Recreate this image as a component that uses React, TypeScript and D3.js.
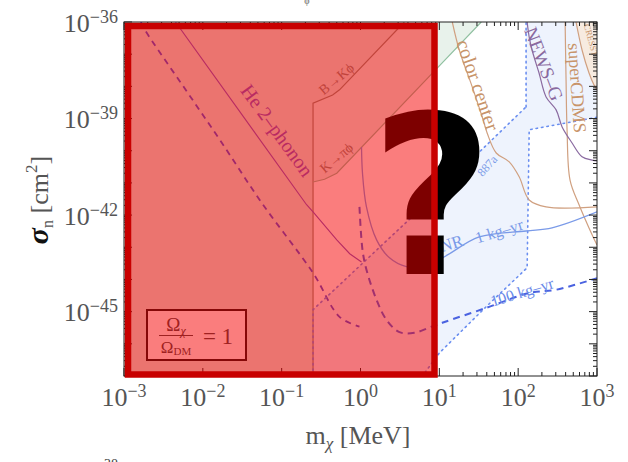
import React from 'react';
import * as d3 from 'd3';

type P = [number, number]; // [m_chi in MeV, sigma_n in cm^2]

const W = 628;
const H = 462;
const plot = { left: 124, right: 597, top: 22, bottom: 376 };

const xTickValues = [1e-3, 1e-2, 1e-1, 1, 10, 100, 1000];
const yTickValues = [1e-36, 1e-39, 1e-42, 1e-45];

// excluded region boundary from B -> K phi (plus low-mass bound)
const bKphi: P[] = [[0.25, 1e-47], [0.25, 3.0e-39], [0.443, 5.4e-39], [0.542, 7.8e-39], [3.6, 1e-36]];
// K -> pi phi
const kPiPhi: P[] = [[0.25, 1.07e-41], [0.35, 1.3e-41], [0.5, 2.0e-41], [9.2, 3.5e-38], [34, 1e-36]];
// He 2-phonon
const he2phonon: P[] = [[4.5e-3, 1e-36], [0.207, 2.1e-42], [0.25, 1.26e-42], [0.5, 1.7e-43], [0.73, 6.3e-44], [1.03, 3.5e-44]];
// long dashed projection
const heDashed: P[] = [[1.64e-3, 1e-36], [1.85e-3, 5.6e-37], [6.3e-3, 6.8e-39], [0.0164, 2.2e-40], [0.0558, 2.4e-42], [0.25, 1.6e-44], [0.542, 6.9e-46], [0.97, 3.4e-46]];
// NR 1 kg-yr
const nr1: P[] = [[1.03, 1.3e-40], [1.06, 2.0e-41], [1.19, 1.8e-42], [1.6, 1.7e-43], [2.33, 4.7e-44], [3.82, 2.5e-44], [5.58, 2.5e-44], [10.9, 4.7e-44], [32, 2.1e-43], [126, 3.2e-43], [269, 4.0e-43], [1000, 1.26e-42]];
// NR 100 kg-yr
const nr100: P[] = [[0.97, 1.8e-42], [1.06, 8.3e-44], [1.19, 2.0e-44], [1.6, 2.3e-45], [2.13, 5.6e-46], [3.12, 2.3e-46], [4.83, 2.2e-46], [7.47, 3.2e-46], [10.9, 4.5e-46], [39, 1.3e-45], [138, 3.8e-45], [303, 4.8e-45], [1000, 1.1e-44]];
// dotted boundaries of the light blue band
const bandOuter: P[] = [[0.25, 1e-47], [0.25, 1.15e-45], [5.1, 1.17e-42], [126, 2.3e-39], [126, 1e-36]];
const bandInner: P[] = [[1000, 1.1e-39], [138, 4.5e-40], [130, 2.3e-44], [39, 1.4e-45], [10, 5.2e-47], [6.1, 1e-47]];
// other experiments
const colorCenter: P[] = [[14.6, 1e-36], [17.9, 1.35e-37], [26.2, 9.5e-39], [35, 1.12e-39], [40.5, 3.5e-40], [52.7, 8.5e-41], [77, 4.5e-41], [103, 1.55e-41], [138, 2.95e-42], [226, 1.8e-42], [1000, 1.8e-42]];
const superCDMS: P[] = [[394, 1e-36], [405, 1.6e-38], [417, 4.5e-40], [455, 1.23e-41], [592, 2.1e-42], [792, 4.0e-43], [1000, 1.17e-43]];
const cresst: P[] = [[542, 1e-36], [646, 1.35e-37], [792, 2.6e-38], [917, 1.1e-38], [1000, 7.8e-39]];
const newsG: P[] = [[130, 1e-36], [138, 3.4e-37], [150, 1.35e-37], [184, 2.6e-38], [226, 4.7e-39], [303, 1.86e-39], [361, 5.5e-40], [483, 1.74e-40], [646, 6.5e-41], [865, 5.1e-41], [1000, 4.8e-41]];

const labelTexts = ['He 2\u2013phonon', 'B\u2192K\u03d5', 'K\u2192\u03c0\u03d5', 'color center', 'NEWS\u2013G', 'superCDMS', 'CRESST', '887a', 'NR', '1 kg\u2013yr', '100 kg\u2013yr'];
const labelPos: P[] = [[0.088, 4.3e-40], [0.497, 1.7e-38], [0.497, 6.0e-41], [31, 1.1e-38], [212, 5.0e-38], [558, 8.9e-39], [840, 2.75e-37], [40.5, 3.4e-41], [14.2, 1.3e-43], [57.4, 3.2e-43], [112, 4.1e-45]];
const labelAngle = [54, -40, -40, 71, 69, 86, 75, -48, -17, -17, -17];
const labelColor = ['#7a58c8', '#8a8a7a', '#8a8a7a', '#c8946a', '#8a6aa0', '#c8946a', '#c8946a', '#7a9ae8', '#7a9ae8', '#7a9ae8', '#6a8ae8'];
const labelSize = [20, 14, 14, 20, 19, 18, 9, 12, 17, 16, 16];

const supMinus = (v: number) => {
  const e = Math.round(Math.log10(v));
  return e < 0 ? '\u2212' + Math.abs(e) : String(e);
};

export default function App() {
  const x = d3.scaleLog().domain([1e-3, 1e3]).range([plot.left, plot.right]);
  const y = d3.scaleLog().domain([1e-47, 1e-36]).range([plot.bottom, plot.top]);
  const lin = d3.line<P>().x(d => x(d[0])).y(d => y(d[1]));
  const smooth = d3.line<P>().x(d => x(d[0])).y(d => y(d[1])).curve(d3.curveCatmullRom.alpha(0.5));
  const poly = (pts: P[]) => (lin(pts) || '') + 'Z';

  const xMinor: number[] = [];
  for (let k = -3; k < 3; k++) for (let m = 1; m < 10; m++) xMinor.push(m * Math.pow(10, k));
  xMinor.push(1000);
  const yMinor: number[] = [];
  for (let k = -47; k < -36; k++) for (let m = 1; m < 10; m++) yMinor.push(m * Math.pow(10, k));
  yMinor.push(1e-36);
  const isMajor = (v: number) => Math.abs(Math.log10(v) - Math.round(Math.log10(v))) < 1e-6;

  const serif = "'Liberation Serif', 'DejaVu Serif', serif";
  const tickCol = '#555';

  const bandPoly: P[] = [...bandOuter, [1000, 1e-36], ...bandInner];
  const greenPoly: P[] = [...kPiPhi, [0.25, 1e-36]];
  const grayPoly: P[] = [[1e-3, 1e-47], ...bKphi, [1e-3, 1e-36]];
  const cresstPoly: P[] = [...cresst, [1000, 1e-36]];

  return (
    <svg width={W} height={H} style={{ position: 'absolute', left: 0, top: 0, background: '#fff' }} fontFamily={serif}>
      <defs>
        <clipPath id="plotClip">
          <rect x={plot.left} y={plot.top} width={plot.right - plot.left} height={plot.bottom - plot.top} />
        </clipPath>
      </defs>
      <rect x={0} y={0} width={W} height={H} fill="#fff" />
      <text x={307} y={4} fontSize={10} fill="#666" textAnchor="middle">{'\u03d5'}</text>

      <g clipPath="url(#plotClip)">
        <path d={poly(bandPoly)} fill="#eef3fd" />
        <path d={poly(greenPoly)} fill="#e8f2eb" />
        <path d={poly(grayPoly)} fill="#e0ece2" />
        <path d={poly(cresstPoly)} fill="#f7ebe0" />

        <path d={lin(bKphi) || ''} fill="none" stroke="#8c8c78" strokeWidth={1.2} />
        <path d={lin(kPiPhi) || ''} fill="none" stroke="#8fc0a0" strokeWidth={1.2} />
        <path d={lin(he2phonon) || ''} fill="none" stroke="#7a58c8" strokeWidth={1.1} />
        <path d={smooth(heDashed) || ''} fill="none" stroke="#4a50d8" strokeWidth={1.8} strokeDasharray="6 5" />
        <path d={lin(bandOuter.slice(0, 4)) || ''} fill="none" stroke="#6a8ef0" strokeWidth={1.6} strokeDasharray="1.5 4" strokeLinecap="round" />
        <path d={lin(bandOuter.slice(3)) || ''} fill="none" stroke="#6a8ef0" strokeWidth={1.6} strokeDasharray="1.5 4" strokeLinecap="round" />
        <path d={lin(bandInner) || ''} fill="none" stroke="#6a8ef0" strokeWidth={1.6} strokeDasharray="1.5 4" strokeLinecap="round" />
        <path d={smooth(colorCenter) || ''} fill="none" stroke="#d0a080" strokeWidth={1.2} />
        <path d={smooth(superCDMS) || ''} fill="none" stroke="#d0a080" strokeWidth={1.2} />
        <path d={smooth(cresst) || ''} fill="none" stroke="#d0a080" strokeWidth={1.2} />
        <path d={smooth(newsG) || ''} fill="none" stroke="#8a6aa0" strokeWidth={1.2} />
        <path d={smooth(nr1) || ''} fill="none" stroke="#7a9ae8" strokeWidth={1.3} />
        <path d={smooth(nr100) || ''} fill="none" stroke="#4a62e0" strokeWidth={2} strokeDasharray="7 5" />

        {labelTexts.map((t, i) => (
          <text key={t} transform={`translate(${x(labelPos[i][0])},${y(labelPos[i][1])}) rotate(${labelAngle[i]})`}
            textAnchor="middle" dominantBaseline="central" fontSize={labelSize[i]} fill={labelColor[i]}>{t}</text>
        ))}

        {/* legend annotation */}
        <rect x={147} y={310} width={99} height={50} fill="#fff" stroke="#111" strokeWidth={2} />
        <text x={176} y={331} fontSize={19} fill="#444" textAnchor="middle">{'\u03a9'}<tspan fontSize={12} dy={4} fontStyle="italic">{'\u03c7'}</tspan></text>
        <line x1={159} x2={193} y1={335.5} y2={335.5} stroke="#444" strokeWidth={1} />
        <text x={176} y={353} fontSize={17} fill="#444" textAnchor="middle">{'\u03a9'}<tspan fontSize={11} dy={2}>DM</tspan></text>
        <text x={218} y={344} fontSize={23} fill="#444" textAnchor="middle">= 1</text>
      </g>

      {/* frame */}
      <rect x={plot.left} y={plot.top} width={plot.right - plot.left} height={plot.bottom - plot.top} fill="none" stroke="#222" strokeWidth={1} />
      {xMinor.map((v, i) => {
        const len = isMajor(v) ? 8 : 4;
        const xx = x(v);
        return (
          <g key={'xt' + i} stroke="#222" strokeWidth={1}>
            <line x1={xx} x2={xx} y1={plot.bottom} y2={plot.bottom - len} />
            <line x1={xx} x2={xx} y1={plot.top} y2={plot.top + len} />
          </g>
        );
      })}
      {yMinor.map((v, i) => {
        const len = isMajor(v) ? 8 : 4;
        const yy = y(v);
        return (
          <g key={'yt' + i} stroke="#222" strokeWidth={1}>
            <line x1={plot.left} x2={plot.left + len} y1={yy} y2={yy} />
            <line x1={plot.right} x2={plot.right - len} y1={yy} y2={yy} />
          </g>
        );
      })}

      {/* question mark */}
      <text transform="translate(432,274) scale(0.95,1)" fontFamily="'DejaVu Sans', sans-serif" fontWeight="bold" fontSize={222} fill="#000" textAnchor="middle">?</text>

      {/* red overlay */}
      <rect x={128} y={26} width={306.5} height={348.5} fill="rgb(245,0,0)" fillOpacity={0.51} stroke="#c80000" strokeWidth={6.5} />

      {/* tick labels */}
      {xTickValues.map(v => (
        <text key={'xl' + v} x={x(v)} y={406} fontSize={26} fill={tickCol} textAnchor="middle">
          10<tspan fontSize={18} dy={-9}>{supMinus(v)}</tspan>
        </text>
      ))}
      {yTickValues.map(v => (
        <text key={'yl' + v} x={118} y={y(v) + 9.5} fontSize={26} fill={tickCol} textAnchor="end">
          10<tspan fontSize={18} dy={-9}>{supMinus(v)}</tspan>
        </text>
      ))}

      {/* axis titles */}
      <text x={358} y={444} fontSize={26} fill={tickCol} textAnchor="middle">
        m<tspan fontSize={17} dy={5} fontStyle="italic">{'\u03c7'}</tspan><tspan dy={-5}> [MeV]</tspan>
      </text>
      <text transform="translate(48,200) rotate(-90)" fontSize={26} fill={tickCol} textAnchor="middle">
        <tspan fill="#111" fontWeight="bold" fontStyle="italic" fontSize={30}>{'\u03c3'}</tspan>
        <tspan fontSize={16} dy={5}>n</tspan>
        <tspan dy={-5}> [cm</tspan>
        <tspan fontSize={17} dy={-11}>2</tspan>
        <tspan dy={11}>]</tspan>
      </text>

      <text x={104} y={469} fontSize={14} fill="#444">38</text>
    </svg>
  );
}
